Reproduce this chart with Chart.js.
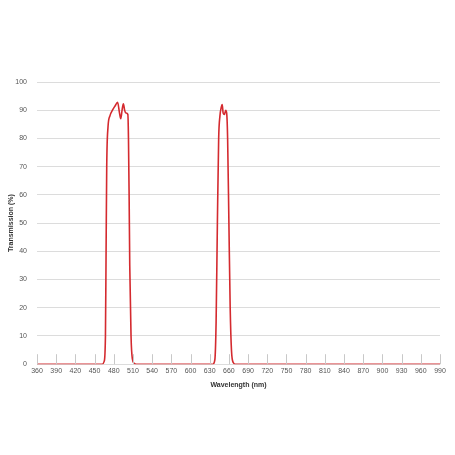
<!DOCTYPE html>
<html>
<head>
<meta charset="utf-8">
<script src="https://cdn.jsdelivr.net/npm/chart.js@4/dist/chart.umd.min.js"></script>
<style>
  html, body { margin: 0; padding: 0; background: #fff; }
  #wrap { width: 455px; height: 455px; }
</style>
</head>
<body>
<div id="wrap"><canvas id="myChart"></canvas></div>
<script>
// wavelength (nm) and transmission (%)
const wavelengths = [
  360, 462, 465, 467, 468, 469, 471, 474, 478, 482, 486, 489, 491, 493, 495,
  497, 499, 502, 503, 504, 505, 507, 509, 512, 515,
  635, 638, 640, 642, 644, 646, 648, 649.5, 651, 653, 655, 656.5, 658, 660,
  662, 664, 667, 670, 990,
];
const transmission = [
  0, 0, 1, 10, 40, 70, 84, 88, 90, 91.5, 92.8, 89, 87, 90, 92.3,
  90, 89, 88.5, 80, 60, 35, 10, 2, 0.3, 0,
  0, 1.5, 15, 50, 80, 88, 91, 92, 89, 88.5, 90, 89, 80, 50,
  20, 5, 0.5, 0, 0,
];
const xTicks = [];
for (let w = 360; w <= 990; w += 30) xTicks.push(w);
const yTicks = [0, 10, 20, 30, 40, 50, 60, 70, 80, 90, 100];

const ctx = document.getElementById("myChart").getContext("2d");
const tickFont = { family: "'Liberation Sans', Arial, sans-serif", size: 7 };
const titleFont = { family: "'Liberation Sans', Arial, sans-serif", size: 7, weight: "bold" };

// short vertical tick marks sitting on the baseline
const bottomTicks = {
  id: "bottomTicks",
  afterDatasetsDraw(chart) {
    const x = chart.scales.x;
    const y = chart.scales.y;
    const c = chart.ctx;
    const base = y.getPixelForValue(0);
    c.save();
    c.strokeStyle = "#c8c8c8";
    c.lineWidth = 1;
    xTicks.forEach((w) => {
      const px = Math.round(x.getPixelForValue(w)) + 0.5;
      c.beginPath();
      c.moveTo(px, base - 10);
      c.lineTo(px, base);
      c.stroke();
    });
    c.restore();
  },
};

const points = wavelengths.map((w, i) => ({ x: w, y: transmission[i] }));

new Chart(ctx, {
  type: "line",
  plugins: [bottomTicks],
  data: {
    datasets: [
      {
        data: points,
        borderColor: "#d42a2f",
        borderWidth: 1.6,
        pointRadius: 0,
        cubicInterpolationMode: "monotone",
        fill: false,
      },
    ],
  },
  options: {
    responsive: true,
    maintainAspectRatio: false,
    animation: false,
    layout: { padding: { top: 82, right: 15, left: 0, bottom: 66 } },
    plugins: { legend: { display: false }, tooltip: { enabled: false } },
    scales: {
      x: {
        type: "linear",
        min: 360,
        max: 990,
        afterBuildTicks: (s) => { s.ticks = xTicks.map((v) => ({ value: v })); },
        grid: { display: false, drawTicks: false },
        border: { display: false },
        ticks: { font: tickFont, color: "#555", padding: 3, maxRotation: 0, autoSkip: false },
        title: { display: true, text: "Wavelength (nm)", font: titleFont, color: "#333", padding: { top: 2, bottom: 0 } },
      },
      y: {
        min: 0,
        max: 100,
        afterBuildTicks: (s) => { s.ticks = yTicks.map((v) => ({ value: v })); },
        afterFit: (s) => { s.width = 37; },
        grid: { color: "#dcdcdc", lineWidth: 1, drawTicks: false },
        border: { display: false },
        ticks: { font: tickFont, color: "#555", padding: 10 },
        title: { display: true, text: "Transmission (%)", font: titleFont, color: "#333", padding: { top: 7, bottom: 0 } },
      },
    },
  },
});
</script>
</body>
</html>
